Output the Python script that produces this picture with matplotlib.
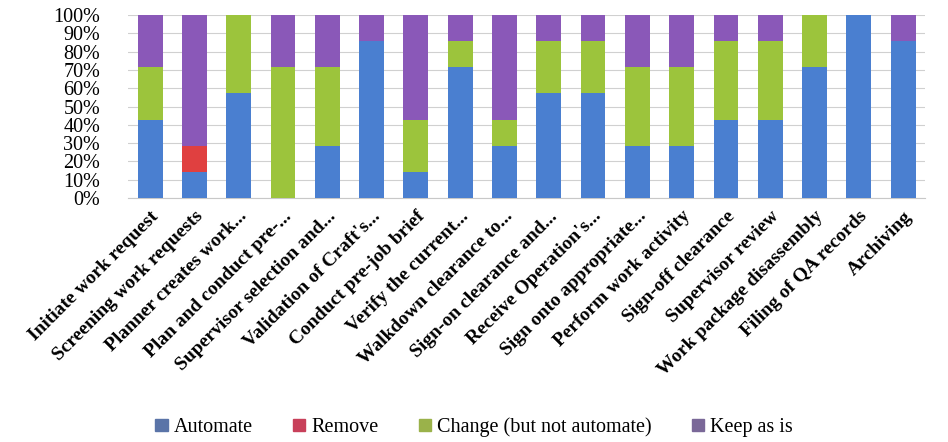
import matplotlib.pyplot as plt
import numpy as np

# process steps (x axis)
steps = ["Initiate work request", "Screening work requests", "Planner creates work...",
         "Plan and conduct pre-...", "Supervisor selection and...", "Validation of Craft's...",
         "Conduct pre-job brief", "Verify the current...", "Walkdown clearance to...",
         "Sign-on clearance and...", "Receive Operation's...", "Sign onto appropriate...",
         "Perform work activity", "Sign-off clearance", "Supervisor review",
         "Work package disassembly", "Filing of QA records", "Archiving"]

# share of responses (out of 7)
automate = [3, 1, 4, 0, 2, 6, 1, 5, 2, 4, 4, 2, 2, 3, 3, 5, 7, 6]
remove   = [0, 1, 0, 0, 0, 0, 0, 0, 0, 0, 0, 0, 0, 0, 0, 0, 0, 0]
change   = [2, 0, 3, 5, 3, 0, 2, 1, 1, 2, 2, 3, 3, 3, 3, 2, 0, 0]
keep     = [2, 5, 0, 2, 2, 1, 4, 1, 4, 1, 1, 2, 2, 1, 1, 0, 0, 1]

series = [("Automate", automate, "#4a7fd0"),
          ("Remove", remove, "#e04040"),
          ("Change (but not automate)", change, "#9cc43c"),
          ("Keep as is", keep, "#8a58b8")]

plt.rcParams['font.family'] = ['Liberation Serif', 'DejaVu Serif']

fig = plt.figure()
fig.set_size_inches(9.48, 4.42)
ax = fig.add_axes([0.135, 0.552, 0.841, 0.414])

x = np.arange(len(steps))
total = np.array(automate) + np.array(remove) + np.array(change) + np.array(keep)
bottom = np.zeros(len(steps))
for name, vals, col in series:
    pct = np.array(vals) / total
    ax.bar(x, pct, 0.56, bottom=bottom, color=col, label=name, zorder=3)
    bottom += pct

ax.set_xlim(-0.5, len(steps) - 0.5)
ax.set_ylim(0, 1)
ax.set_yticks(np.arange(0, 1.01, 0.1))
ax.set_yticklabels(["%d%%" % v for v in range(0, 101, 10)], fontsize=14.5)
ax.yaxis.grid(True, color="#d0d0d0", linewidth=0.8, zorder=0)
ax.set_xticks(x)
ax.set_xticklabels(steps, rotation=45, ha="right", rotation_mode="anchor",
                   fontsize=14, fontweight="bold")
ax.tick_params(axis="y", length=0, pad=20)
ax.tick_params(axis="x", length=0, pad=7)
for s in ["top", "right", "left"]:
    ax.spines[s].set_visible(False)
ax.spines["bottom"].set_color("#c8c8c8")

leg = fig.legend(loc="lower center", bbox_to_anchor=(0.5, -0.03), ncol=4, frameon=False,
                 prop={"family": "Liberation Serif", "size": 14.5},
                 handlelength=0.6, handleheight=0.6, handletextpad=0.3,
                 columnspacing=2.0)
for h, c in zip(leg.legend_handles, ["#5a74a8", "#c8405a", "#9ab24a", "#7a6898"]):
    h.set_color(c)

plt.savefig("out.png", dpi=100)
